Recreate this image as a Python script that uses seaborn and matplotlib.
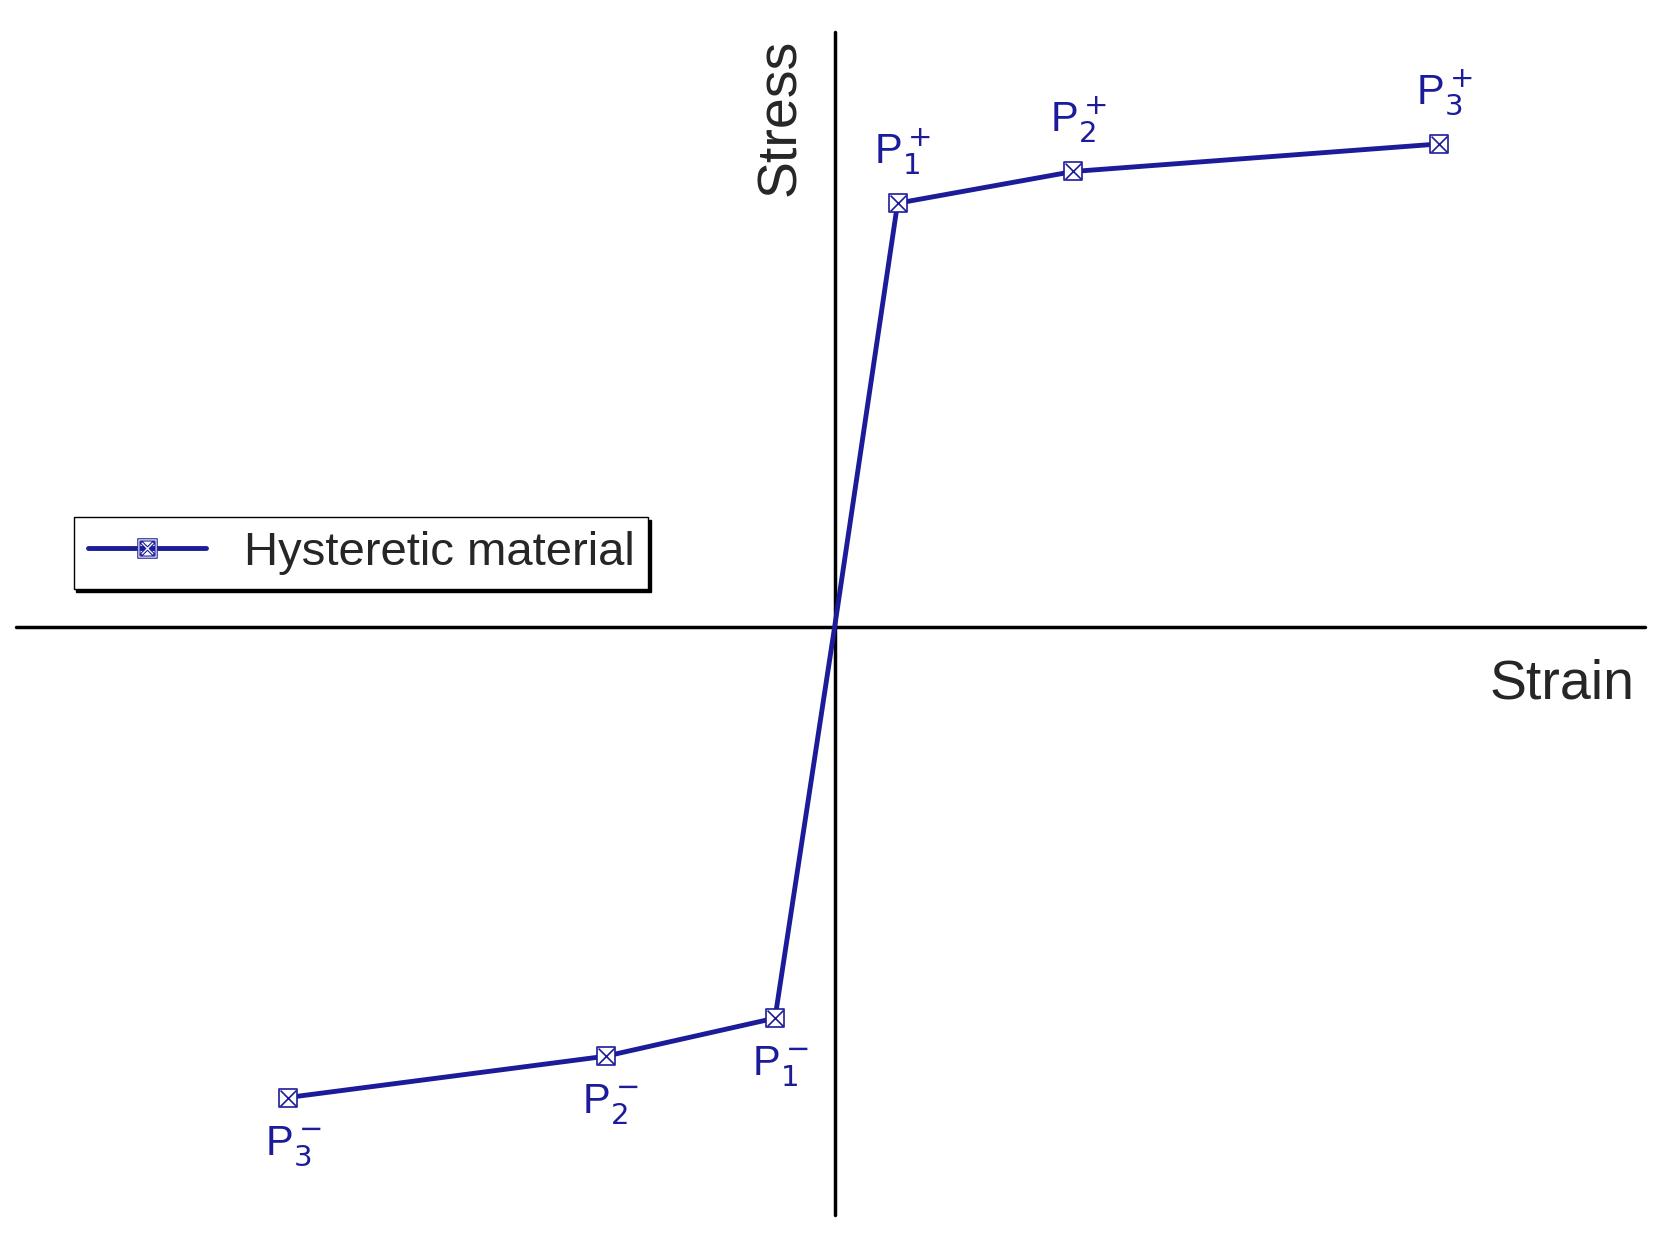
import numpy as np
import pandas as pd
import matplotlib
matplotlib.use("Agg")
import matplotlib.pyplot as plt
import seaborn as sns
from matplotlib.lines import Line2D

sns.set_style("white")
plt.rcParams['font.family'] = ['Liberation Sans', 'DejaVu Sans']

# backbone points (strain, stress), arbitrary units
strain = [-513, -215, -56, 0, 59, 224, 567]
stress = [-445, -406, -370, 0, 400, 430, 456]
labels = ["P$^-_3$", "P$^-_2$", "P$^-_1$", "", "P$^+_1$", "P$^+_2$", "P$^+_3$"]
df = pd.DataFrame({"strain": strain, "stress": stress})

navy = "#1c1c9a"
fig = plt.figure(figsize=(16.63, 12.33), dpi=100)
ax = fig.add_axes([0, 0, 1, 1])
sns.lineplot(data=df, x="strain", y="stress", ax=ax, color=navy, lw=3.5, sort=False)
pts = df.drop(index=3)
for m in ["s", "x"]:
    ax.scatter(pts.strain, pts.stress, marker=m, s=180 if m == "s" else 130,
               facecolors="white" if m == "s" else navy, edgecolors=navy,
               linewidths=1.2, zorder=3)

ax.plot([-768, 760], [0, 0], color="black", lw=2.5, zorder=1)
ax.plot([0, 0], [-556, 562], color="black", lw=2.5, zorder=1)

for x, y, t in zip(strain, stress, labels):
    if not t:
        continue
    if y > 0:
        ax.text(x + 5, y + 25, t, ha="center", va="bottom", fontsize=30, color=navy)
    else:
        ax.text(x + 5, y - 25, t, ha="center", va="top", fontsize=30, color=navy)

ax.text(-50, 555, "Stress", rotation=90, ha="center", va="top", fontsize=40)
ax.text(750, -30, "Strain", ha="right", va="top", fontsize=40)

ax.set_xlim(-783, 777)
ax.set_ylim(-573, 592)
ax.set_xlabel("")
ax.set_ylabel("")
ax.axis("off")

h = Line2D([], [], color=navy, lw=3.5, marker="$\\boxtimes$", markersize=14,
           markerfacecolor="white", markeredgecolor=navy, markeredgewidth=0.8)
ax.legend([h], ["Hysteretic material"], loc="upper left", bbox_to_anchor=(0.03, 0.6),
          fontsize=34, frameon=True, shadow={"color": "black", "alpha": 1},
          fancybox=False, edgecolor="black", handlelength=2.5, borderpad=0.3)

fig.savefig("out.png", dpi=100)
